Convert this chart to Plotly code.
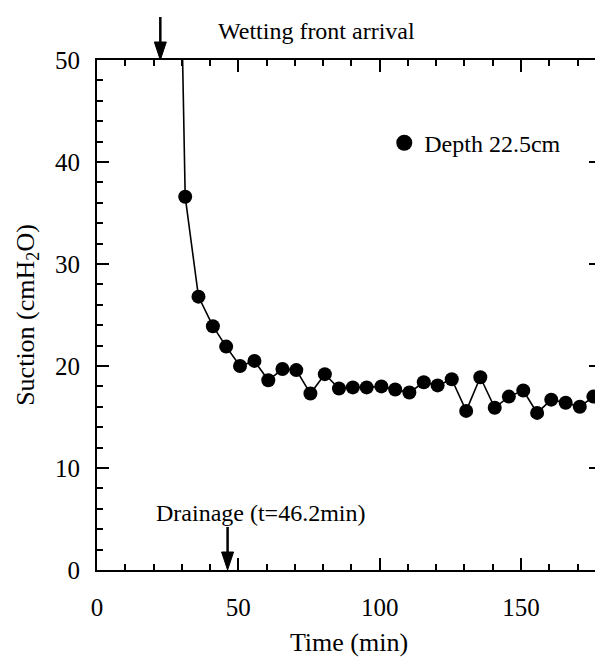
import plotly.graph_objects as go

# Data
time_min = [26.2, 31.2, 35.9, 41.0, 45.7, 50.6, 55.7, 60.6, 65.6, 70.5, 75.5,
            80.6, 85.6, 90.5, 95.4, 100.6, 105.5, 110.5, 115.6, 120.5, 125.5,
            130.6, 135.6, 140.7, 145.7, 150.8, 155.7, 160.7, 165.8, 170.8, 175.6]
suction = [110.0, 36.6, 26.8, 23.9, 21.9, 20.0, 20.5, 18.6, 19.7, 19.6, 17.3,
           19.2, 17.8, 17.9, 17.9, 18.0, 17.7, 17.4, 18.4, 18.1, 18.7,
           15.6, 18.9, 15.9, 17.0, 17.6, 15.4, 16.7, 16.4, 16.0, 17.0]
series_name = 'Depth 22.5cm'
wetting_t = 22.4
drainage_t = 46.2

font = 'Liberation Serif, Times New Roman, serif'

fig = go.Figure()

fig.add_trace(go.Scatter(
    x=time_min, y=suction,
    mode='lines+markers',
    line=dict(color='black', width=1.6),
    marker=dict(color='black', size=14),
    showlegend=False
))

# legend entry: marker only
fig.add_trace(go.Scatter(
    x=[None], y=[None],
    mode='markers',
    marker=dict(color='black', size=18),
    name=series_name
))

# arrows drawn as shapes (pixel offsets from an anchor point)
head = 'M 0 0 L -6 18 L 6 18 Z'
for t, ya in [(wetting_t, 1), (drainage_t, 0)]:
    fig.add_shape(type='path', path=head, xref='x', yref='paper',
                  xsizemode='pixel', ysizemode='pixel', xanchor=t, yanchor=ya,
                  fillcolor='black', line=dict(color='black', width=1))
    fig.add_shape(type='path', path='M 0 16 L 0 43', xref='x', yref='paper',
                  xsizemode='pixel', ysizemode='pixel', xanchor=t, yanchor=ya,
                  line=dict(color='black', width=2.5))

fig.add_annotation(x=0.435, y=1, xref='paper', yref='paper', yshift=29,
                   xanchor='center', yanchor='middle',
                   text='Wetting front arrival', showarrow=False,
                   font=dict(family=font, size=24, color='black'))
fig.add_annotation(x=drainage_t, y=0, xref='x', yref='y', xshift=33, yshift=57,
                   xanchor='center', yanchor='middle',
                   text='Drainage (t=46.2min)', showarrow=False,
                   font=dict(family=font, size=24, color='black'))

fig.update_layout(
    width=595, height=649,
    margin=dict(l=89, r=0, t=52, b=87),
    paper_bgcolor='white', plot_bgcolor='white',
    font=dict(family=font, size=25, color='black'),
    legend=dict(x=0.57, y=0.837, xanchor='left', yanchor='middle',
                bgcolor='rgba(0,0,0,0)', font=dict(size=24)),
    xaxis=dict(
        range=[0, 178.3], dtick=50, tick0=0,
        ticks='inside', ticklen=12, tickwidth=1.5, tickcolor='black',
        minor=dict(dtick=10, ticks='inside', ticklen=6, tickwidth=1.5, tickcolor='black'),
        showline=True, linewidth=2, linecolor='black', mirror='ticks',
        showgrid=False, zeroline=False,
        ticklabelstandoff=14,
        title=dict(text='Time (min)', font=dict(size=26), standoff=17)
    ),
    yaxis=dict(
        range=[0, 50], dtick=10, tick0=0,
        ticks='inside', ticklen=12, tickwidth=1.5, tickcolor='black',
        minor=dict(dtick=2, ticks='inside', ticklen=6, tickwidth=1.5, tickcolor='black'),
        showline=True, linewidth=2, linecolor='black', mirror='ticks',
        showgrid=False, zeroline=False,
        ticklabelstandoff=10,
        title=dict(text='Suction (cmH<sub>2</sub>O)', font=dict(size=26), standoff=13)
    )
)

fig.write_html('out.html')
